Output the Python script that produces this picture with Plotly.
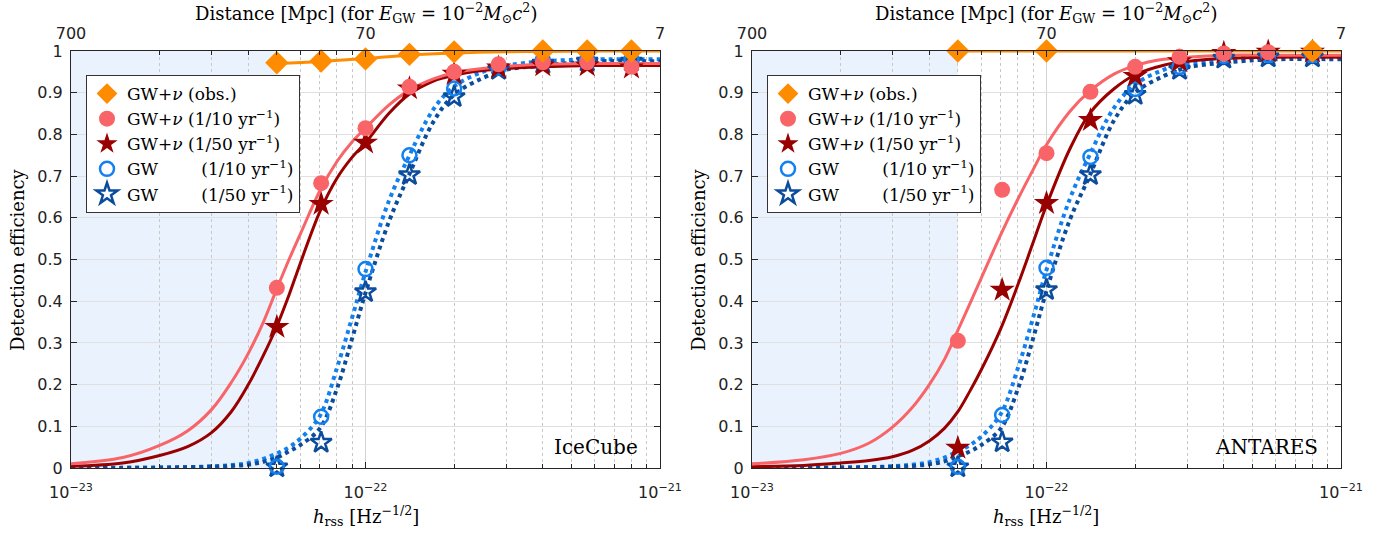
import plotly.graph_objects as go

W, H = 1398, 535
SERIF = "DejaVu Serif"
SANS = "DejaVu Sans"

# ---------------- data ----------------
h_points = [5e-23, 7.07e-23, 1e-22, 1.41e-22, 2e-22, 2.83e-22, 4e-22, 5.66e-22, 8e-22]
h_curve = [1e-23, 1.5e-23, 2e-23, 2.5e-23, 3e-23, 3.5e-23, 4e-23, 4.5e-23, 5e-23, 5.5e-23,
           6e-23, 7e-23, 8e-23, 9e-23, 1e-22, 1.2e-22, 1.4e-22, 1.7e-22, 2e-22, 2.5e-22,
           3e-22, 4e-22, 6e-22, 1e-21]

# IceCube panel
ic_obs_pts = [0.972, 0.976, 0.981, 0.992, 0.998, None, 1.0, 1.0, 1.0]
ic_nu10_pts = [0.432, 0.683, 0.815, 0.914, 0.95, 0.968, 0.973, 0.973, 0.962]
ic_nu50_pts = [0.338, 0.633, 0.78, 0.91, 0.945, 0.96, 0.965, 0.965, 0.96]
ic_gw10_pts = [0.003, 0.123, 0.477, 0.75, 0.91, 0.96, 0.978, 0.98, 0.98]
ic_gw50_pts = [0.002, 0.061, 0.422, 0.703, 0.89, 0.955, 0.97, 0.975, 0.975]

ic_obs_h = [5e-23, 7e-23, 1e-22, 1.4e-22, 2e-22, 3e-22, 4e-22, 6e-22, 1e-21]
ic_obs_curve = [0.97, 0.975, 0.982, 0.99, 0.995, 0.998, 0.999, 1.0, 1.0]
ic_nu10_curve = [0.010, 0.025, 0.054, 0.09, 0.14, 0.205, 0.275, 0.35, 0.43, 0.50,
                 0.56, 0.665, 0.735, 0.782, 0.815, 0.87, 0.905, 0.933, 0.948, 0.958,
                 0.963, 0.968, 0.97, 0.97]
ic_nu50_curve = [0.004, 0.012, 0.03, 0.052, 0.085, 0.135, 0.20, 0.27, 0.34, 0.415,
                 0.49, 0.615, 0.695, 0.745, 0.78, 0.85, 0.895, 0.928, 0.942, 0.953,
                 0.958, 0.962, 0.965, 0.965]
ic_gw10_curve = [0.0, 0.0005, 0.001, 0.002, 0.004, 0.007, 0.012, 0.022, 0.035, 0.05,
                 0.07, 0.125, 0.24, 0.36, 0.47, 0.64, 0.745, 0.86, 0.915, 0.95,
                 0.965, 0.975, 0.98, 0.98]
ic_gw50_curve = [0.0, 0.0003, 0.001, 0.002, 0.003, 0.005, 0.008, 0.015, 0.025, 0.04,
                 0.055, 0.095, 0.19, 0.31, 0.42, 0.59, 0.70, 0.83, 0.895, 0.935,
                 0.955, 0.965, 0.975, 0.975]

# ANTARES panel
an_obs_h = [5e-23, 1e-22, 8e-22]
an_obs_pts = [1.0, 1.0, 1.0]
an_nu10_pts = [0.305, 0.667, 0.755, 0.902, 0.962, 0.986, 0.994, 0.997, 0.997]
an_nu50_pts = [0.048, 0.427, 0.635, 0.834, 0.94, 0.975, 0.995, 0.998, 0.998]
an_gw10_pts = [0.003, 0.127, 0.48, 0.746, 0.909, 0.962, 0.988, 0.99, 0.99]
an_gw50_pts = [0.002, 0.062, 0.427, 0.703, 0.895, 0.955, 0.982, 0.985, 0.985]

an_obs_curve_h = [5e-23, 1e-22, 1e-21]
an_obs_curve = [1.0, 1.0, 1.0]
an_nu10_curve = [0.01, 0.02, 0.035, 0.06, 0.098, 0.145, 0.2, 0.26, 0.33, 0.395,
                 0.455, 0.56, 0.645, 0.715, 0.775, 0.855, 0.903, 0.945, 0.965, 0.98,
                 0.985, 0.99, 0.99, 0.99]
an_nu50_curve = [0.003, 0.006, 0.012, 0.018, 0.027, 0.042, 0.065, 0.095, 0.135, 0.185,
                 0.235, 0.335, 0.44, 0.54, 0.63, 0.765, 0.85, 0.91, 0.943, 0.966,
                 0.975, 0.982, 0.985, 0.985]
an_gw10_curve = [0.0, 0.0005, 0.001, 0.002, 0.004, 0.008, 0.014, 0.025, 0.04, 0.055,
                 0.075, 0.13, 0.24, 0.36, 0.475, 0.645, 0.75, 0.865, 0.92, 0.955,
                 0.97, 0.98, 0.985, 0.985]
an_gw50_curve = [0.0, 0.0003, 0.001, 0.002, 0.003, 0.005, 0.009, 0.016, 0.028, 0.04,
                 0.055, 0.095, 0.19, 0.31, 0.425, 0.595, 0.70, 0.835, 0.9, 0.94,
                 0.96, 0.972, 0.98, 0.98]

x_tickvals = [1e-23, 1e-22, 1e-21]
x_ticktext = ["10<sup>\u221223</sup>", "10<sup>\u221222</sup>", "10<sup>\u221221</sup>"]
dist_ticktext = ["700", "70", "7"]
y_tickvals = [0, 0.1, 0.2, 0.3, 0.4, 0.5, 0.6, 0.7, 0.8, 0.9, 1]
y_ticktext = ["0", "0.1", "0.2", "0.3", "0.4", "0.5", "0.6", "0.7", "0.8", "0.9", "1"]
minor_vals = [m * 10.0 ** e for e in (-23, -22) for m in range(2, 10)]
shade_range = [1e-23, 5e-23]
panel_names = ["IceCube", "ANTARES"]

# ---------------- style ----------------
C_OBS = "#FF8C00"
C_NU10 = "#F86468"
C_NU50 = "#990000"
C_GW10 = "#1380F0"
C_GW50 = "#0B4C9C"

NBSP = "\u00a0"
labels = [
    "GW+<i>\u03bd</i> (obs.)",
    "GW+<i>\u03bd</i> (1/10 yr<sup>\u22121</sup>)",
    "GW+<i>\u03bd</i> (1/50 yr<sup>\u22121</sup>)",
    "GW" + NBSP * 8 + "(1/10 yr<sup>\u22121</sup>)",
    "GW" + NBSP * 8 + "(1/50 yr<sup>\u22121</sup>)",
]

fig = go.Figure()

L0, L1 = 71 / W, 660 / W
R0, R1 = 752 / W, 1341 / W
YB, YT = 1 - 468 / H, 1 - 51 / H

panels = [
    dict(xa="x", ya="y", xtop="x3", leg="legend",
         obs_h=ic_obs_h, obs_c=ic_obs_curve, obs_ph=h_points, obs_p=ic_obs_pts,
         nu10c=ic_nu10_curve, nu50c=ic_nu50_curve, gw10c=ic_gw10_curve, gw50c=ic_gw50_curve,
         nu10=ic_nu10_pts, nu50=ic_nu50_pts, gw10=ic_gw10_pts, gw50=ic_gw50_pts),
    dict(xa="x2", ya="y2", xtop="x4", leg="legend2",
         obs_h=an_obs_curve_h, obs_c=an_obs_curve, obs_ph=an_obs_h, obs_p=an_obs_pts,
         nu10c=an_nu10_curve, nu50c=an_nu50_curve, gw10c=an_gw10_curve, gw50c=an_gw50_curve,
         nu10=an_nu10_pts, nu50=an_nu50_pts, gw10=an_gw10_pts, gw50=an_gw50_pts),
]

for p in panels:
    common = dict(xaxis=p["xa"], yaxis=p["ya"], cliponaxis=False)
    # curves
    fig.add_trace(go.Scatter(x=h_curve, y=p["gw10c"], mode="lines", showlegend=False,
                             line=dict(color=C_GW10, width=4, dash="dot", shape="spline"), **common))
    fig.add_trace(go.Scatter(x=h_curve, y=p["gw50c"], mode="lines", showlegend=False,
                             line=dict(color=C_GW50, width=4, dash="dot", shape="spline"), **common))
    fig.add_trace(go.Scatter(x=h_curve, y=p["nu50c"], mode="lines", showlegend=False,
                             line=dict(color=C_NU50, width=3, shape="spline"), **common))
    fig.add_trace(go.Scatter(x=h_curve, y=p["nu10c"], mode="lines", showlegend=False,
                             line=dict(color=C_NU10, width=3, shape="spline"), **common))
    fig.add_trace(go.Scatter(x=p["obs_h"], y=p["obs_c"], mode="lines", showlegend=False,
                             line=dict(color=C_OBS, width=3, shape="spline"), **common))
    # markers
    mk = [
        (h_points, p["gw50"], dict(symbol="star-open", size=16, color=C_GW50, line=dict(color=C_GW50, width=2.5)), labels[4], 5),
        (h_points, p["gw10"], dict(symbol="circle-open", size=14, color=C_GW10, line=dict(color=C_GW10, width=2.5)), labels[3], 4),
        (h_points, p["nu50"], dict(symbol="star", size=19, color=C_NU50, line=dict(width=0)), labels[2], 3),
        (h_points, p["nu10"], dict(symbol="circle", size=16, color=C_NU10, line=dict(width=0)), labels[1], 2),
        (p["obs_ph"], p["obs_p"], dict(symbol="diamond", size=18, color=C_OBS, line=dict(width=0)), labels[0], 1),
    ]
    for xs, ys, m, name, rank in mk:
        fig.add_trace(go.Scatter(x=xs, y=ys, mode="markers", name=name, marker=m,
                                 legend=p["leg"], legendrank=rank, **common))
    # empty trace so the top (distance) axis is drawn
    fig.add_trace(go.Scatter(x=[None], y=[None], xaxis=p["xtop"], yaxis=p["ya"],
                             showlegend=False, hoverinfo="skip"))

axis_font = dict(family=SANS, size=16, color="#222")
frame = "#262626"

def xaxis_cfg(domain, anchor):
    return dict(type="log", range=[-23, -21], domain=domain, anchor=anchor, automargin=False,
                tickmode="array", tickvals=x_tickvals, ticktext=x_ticktext,
                ticks="inside", ticklen=6, tickcolor=frame, tickfont=axis_font,
                ticklabelstandoff=10,
                showline=True, linecolor=frame, linewidth=1, mirror=True,
                showgrid=True, gridcolor="#D4D4D4", gridwidth=1,
                minor=dict(tickmode="array", tickvals=minor_vals, ticks="inside", ticklen=4,
                           tickcolor=frame, showgrid=True, gridcolor="#C8C8C8",
                           griddash="dot", gridwidth=1),
                zeroline=False)

def xtop_cfg(overlay, anchor):
    return dict(type="log", range=[-23, -21], overlaying=overlay, anchor=anchor, side="top",
                automargin=False,
                tickmode="array", tickvals=x_tickvals, ticktext=dist_ticktext,
                ticks="inside", ticklen=6, tickcolor=frame, tickfont=axis_font,
                ticklabelstandoff=8,
                showline=False, showgrid=False,
                minor=dict(tickmode="array", tickvals=minor_vals, ticks="inside", ticklen=4,
                           tickcolor=frame, showgrid=False),
                zeroline=False)

def yaxis_cfg(anchor):
    return dict(range=[0, 1], domain=[YB, YT], anchor=anchor, automargin=False,
                tickmode="array", tickvals=y_tickvals, ticktext=y_ticktext,
                ticks="inside", ticklen=6, tickcolor=frame, tickfont=axis_font,
                ticklabelstandoff=4,
                showline=True, linecolor=frame, linewidth=1, mirror="ticks",
                showgrid=True, gridcolor="#E0E0E0", gridwidth=1, zeroline=False)

legend_common = dict(bgcolor="white", bordercolor="#333", borderwidth=1,
                     font=dict(family=SERIF, size=17, color="black"),
                     xanchor="left", yanchor="top", tracegroupgap=0, itemwidth=30)

shapes = []
for xr in ("x", "x2"):
    shapes.append(dict(type="rect", xref=xr, yref=("y" if xr == "x" else "y2") + " domain",
                       x0=shade_range[0], x1=shade_range[1], y0=0, y1=1,
                       fillcolor="#EAF3FD", line=dict(width=0), layer="below"))

annotations = []
top_title = ("Distance [Mpc] (for <i>E</i><sub>GW</sub>" + NBSP + "=" + NBSP +
             "10<sup>\u22122</sup><i>M</i><sub>\u2299</sub><i>c</i><sup>2</sup>)")
for cx, name, px in ((366 / W, panel_names[0], 640 / W), (1046 / W, panel_names[1], 1320 / W)):
    annotations.append(dict(x=cx, y=1 - 13 / H, xref="paper", yref="paper", showarrow=False,
                            text=top_title,
                            font=dict(family=SERIF, size=18, color="black"),
                            xanchor="center", yanchor="middle"))
    annotations.append(dict(x=cx, y=1 - 516 / H, xref="paper", yref="paper", showarrow=False,
                            text="<i>h</i><sub>rss</sub> [Hz<sup>\u22121/2</sup>]",
                            font=dict(family=SERIF, size=18, color="black"),
                            xanchor="center", yanchor="middle"))
    annotations.append(dict(x=px, y=1 - 447 / H, xref="paper", yref="paper", showarrow=False,
                            text=name, font=dict(family=SERIF, size=20, color="black"),
                            xanchor="right", yanchor="middle"))
for yx in (17 / W, 698 / W):
    annotations.append(dict(x=yx, y=1 - 260 / H, xref="paper", yref="paper", showarrow=False,
                            text="Detection efficiency", textangle=-90,
                            font=dict(family=SERIF, size=18, color="black"),
                            xanchor="center", yanchor="middle"))

fig.update_layout(
    width=W, height=H, margin=dict(l=0, r=0, t=0, b=0, autoexpand=False),
    paper_bgcolor="white", plot_bgcolor="white",
    xaxis=xaxis_cfg([L0, L1], "y"),
    xaxis2=xaxis_cfg([R0, R1], "y2"),
    xaxis3=xtop_cfg("x", "y"),
    xaxis4=xtop_cfg("x2", "y2"),
    yaxis=yaxis_cfg("x"),
    yaxis2=yaxis_cfg("x2"),
    legend=dict(x=86 / W, y=1 - 75 / H, **legend_common),
    legend2=dict(x=767 / W, y=1 - 75 / H, **legend_common),
    shapes=shapes, annotations=annotations, showlegend=True,
)

fig.write_html("out.html", config={"displayModeBar": False},
               post_script="document.body.style.margin='0';document.body.style.overflow='hidden';")
